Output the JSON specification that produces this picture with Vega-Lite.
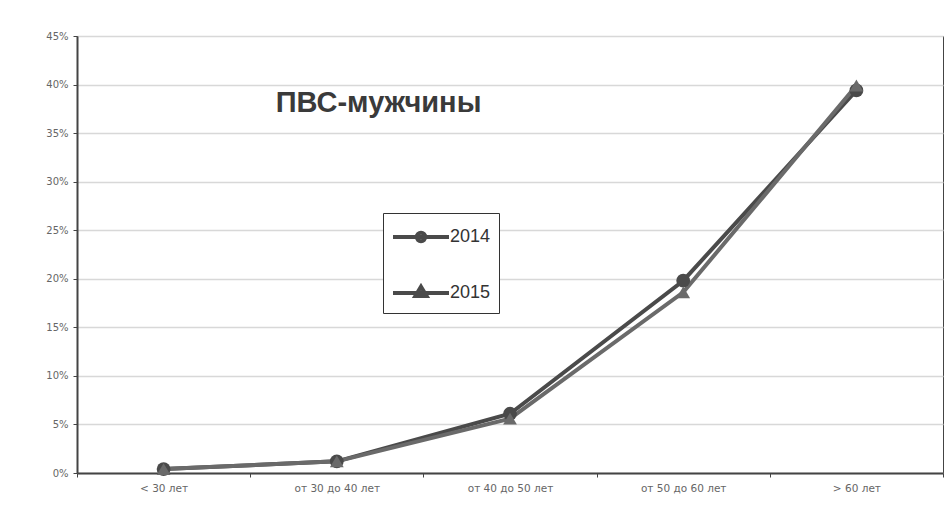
{
  "$schema": "https://vega.github.io/schema/vega-lite/v6.json",
  "width": 866,
  "height": 437,
  "autosize": {"type": "none"},
  "padding": {"left": 77, "top": 36, "right": 2, "bottom": 49},
  "background": "white",
  "title": {
    "text": "ПВС-мужчины",
    "anchor": "start",
    "orient": "top",
    "offset": 0,
    "dx": 230,
    "dy": 87,
    "font": "Liberation Sans",
    "fontSize": 29,
    "fontWeight": "bold",
    "color": "#3a3a3a"
  },
  "data": {
    "values": [
      {"age": "< 30 лет", "year": "2014", "share": 0.004},
      {"age": "от 30 до 40 лет", "year": "2014", "share": 0.012},
      {"age": "от 40 до 50 лет", "year": "2014", "share": 0.061},
      {"age": "от 50 до 60 лет", "year": "2014", "share": 0.198},
      {"age": "> 60 лет", "year": "2014", "share": 0.394},
      {"age": "< 30 лет", "year": "2015", "share": 0.004},
      {"age": "от 30 до 40 лет", "year": "2015", "share": 0.012},
      {"age": "от 40 до 50 лет", "year": "2015", "share": 0.056},
      {"age": "от 50 до 60 лет", "year": "2015", "share": 0.186},
      {"age": "> 60 лет", "year": "2015", "share": 0.399}
    ]
  },
  "encoding": {
    "x": {
      "field": "age",
      "type": "nominal",
      "sort": ["< 30 лет", "от 30 до 40 лет", "от 40 до 50 лет", "от 50 до 60 лет", "> 60 лет"],
      "scale": {"paddingInner": 0, "paddingOuter": 0},
      "axis": {
        "title": null,
        "labelAngle": 0,
        "labelFontSize": 10.5,
        "labelColor": "#666",
        "labelFont": "DejaVu Sans",
        "domainColor": "#444",
        "domainWidth": 2,
        "tickBand": "extent",
        "tickColor": "#444",
        "tickSize": 4,
        "labelPadding": 6,
        "grid": false
      }
    },
    "y": {
      "field": "share",
      "type": "quantitative",
      "scale": {"domain": [0, 0.45], "nice": false},
      "axis": {
        "title": null,
        "format": ".0%",
        "values": [0, 0.05, 0.1, 0.15, 0.2, 0.25, 0.3, 0.35, 0.4, 0.45],
        "labelFontSize": 10,
        "labelColor": "#666",
        "labelFont": "DejaVu Sans",
        "labelPadding": 5,
        "domainColor": "#444",
        "domainWidth": 2,
        "tickColor": "#444",
        "tickSize": 4,
        "gridColor": "#d8d8d8",
        "gridWidth": 1.5
      }
    }
  },
  "layer": [
    {
      "mark": {"type": "line", "strokeWidth": 4},
      "encoding": {
        "color": {
          "field": "year",
          "type": "nominal",
          "scale": {"domain": ["2014", "2015"], "range": ["#4a4a4a", "#6a6a6a"]},
          "legend": null
        }
      }
    },
    {
      "mark": {"type": "point", "filled": true, "size": 190, "opacity": 1},
      "encoding": {
        "color": {
          "field": "year",
          "type": "nominal",
          "scale": {"domain": ["2014", "2015"], "range": ["#4a4a4a", "#6a6a6a"]},
          "legend": null
        },
        "shape": {
          "field": "year",
          "type": "nominal",
          "scale": {"domain": ["2014", "2015"], "range": ["circle", "triangle-up"]},
          "legend": null
        }
      }
    },
    {
      "mark": {"type": "point", "opacity": 0},
      "encoding": {
        "shape": {
          "field": "year",
          "type": "nominal",
          "scale": {
            "domain": ["2014", "2015"],
            "range": [
              "M-2,0L2,0M-0.3,0A0.3,0.3 0 1,0 0.3,0A0.3,0.3 0 1,0 -0.3,0Z",
              "M-2,0L2,0M0,-0.45L0.4,0.22L-0.4,0.22Z"
            ]
          },
          "legend": {
            "title": null,
            "orient": "none",
            "legendX": 306,
            "legendY": 177,
            "direction": "vertical",
            "strokeColor": "#333",
            "fillColor": "white",
            "padding": 8,
            "rowPadding": 27,
            "symbolOffset": 14,
            "labelOffset": 13,
            "labelFontSize": 18,
            "labelFont": "Liberation Sans",
            "labelColor": "#333",
            "symbolSize": 784,
            "symbolStrokeWidth": 4,
            "symbolStrokeColor": "#4a4a4a",
            "symbolFillColor": "#4a4a4a",
            "symbolOpacity": 1,
            "labelLimit": 200
          }
        }
      }
    }
  ],
  "resolve": {"scale": {"shape": "independent"}},
  "config": {
    "view": {"stroke": "#444", "strokeWidth": 1}
  }
}
